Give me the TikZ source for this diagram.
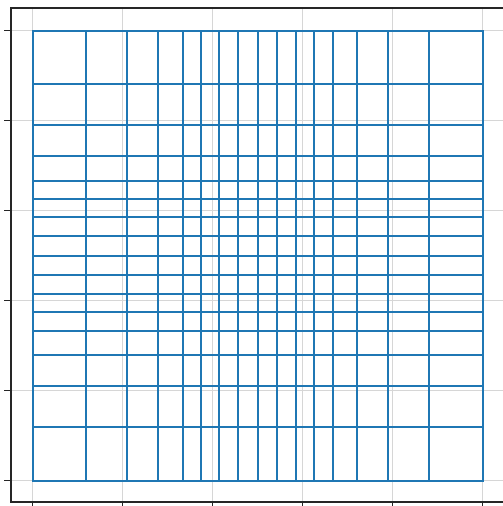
\documentclass[tikz,border=0pt]{standalone}
\begin{document}
\begin{tikzpicture}[x=1pt,y=-1pt,
  gridline/.style={draw=black!16,line width=1pt},
  spine/.style={draw=black!85,line width=1.1pt},
  tickmark/.style={draw=black!85,line width=1pt},
  mesh/.style={draw={rgb,255:red,31;green,119;blue,180},line width=2pt,line cap=rect}]
\useasboundingbox (0,0) rectangle (503,506);
% grid lines
\foreach \k in {0,...,5}{
  \draw[gridline] (32.5+90*\k,8) -- (32.5+90*\k,502);
  \draw[gridline] (11,30.5+90*\k) -- (505,30.5+90*\k);
}
% spines
\draw[spine] (505,8) -- (11,8) -- (11,502) -- (505,502);
% ticks
\foreach \k in {0,...,5}{
  \draw[tickmark] (4,30.5+90*\k) -- (11,30.5+90*\k);
  \draw[tickmark] (32.5+90*\k,502) -- (32.5+90*\k,509);
}
% mesh
\foreach \d in {-225,-171.8,-130.2,-99.2,-75,-56.3,-38.5,-19.5,0,19.5,38.5,56.3,75,99.2,130.2,171.8,225}{
  \draw[mesh] (257.5+\d,30.5) -- (257.5+\d,480.5);
  \draw[mesh] (32.5,255.5+\d) -- (482.5,255.5+\d);
}
\end{tikzpicture}
\end{document}
